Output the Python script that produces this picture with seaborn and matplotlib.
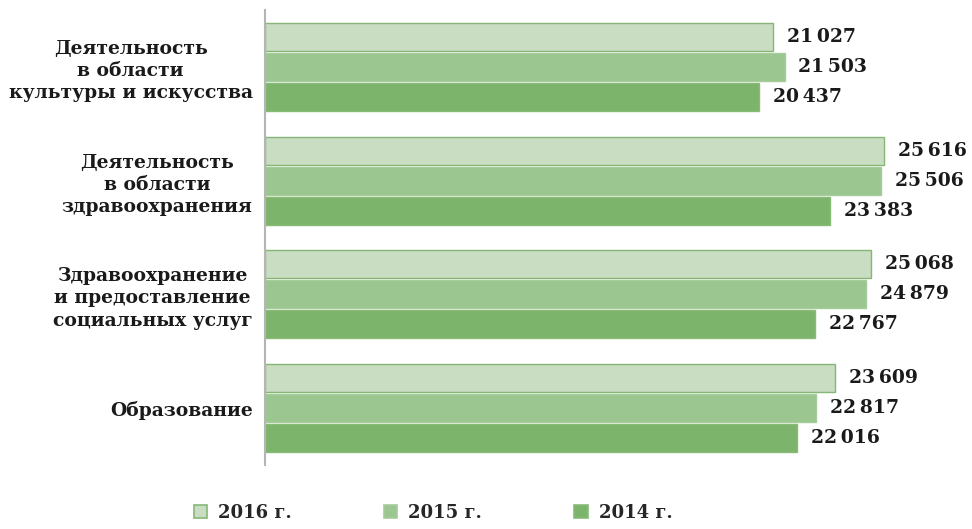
import pandas as pd
import matplotlib
matplotlib.use("Agg")
import matplotlib.pyplot as plt
import seaborn as sns
from matplotlib.patches import Patch

categories = [
    "Деятельность\nв области\nкультуры и искусства",
    "Деятельность\nв области\nздравоохранения",
    "Здравоохранение\nи предоставление\nсоциальных услуг",
    "Образование",
]
years = ["2016 г.", "2015 г.", "2014 г."]
values_2016 = [21027, 25616, 25068, 23609]
values_2015 = [21503, 25506, 24879, 22817]
values_2014 = [20437, 23383, 22767, 22016]

colors = ["#c8ddc2", "#9cc690", "#7db46b"]
edges = ["#86b676", "#a6cc9b", "#88bb77"]

rows = []
for year, vals in zip(years, [values_2016, values_2015, values_2014]):
    for cat, v in zip(categories, vals):
        rows.append({"Категория": cat, "Год": year, "Значение": v})
df = pd.DataFrame(rows)

sns.set_style("white")
plt.rcParams["font.family"] = ["DejaVu Serif"]
plt.rcParams["font.weight"] = "bold"

fig = plt.figure(figsize=(9.72, 5.29), dpi=100)
ax = fig.add_axes([265 / 972, 64 / 529, (962 - 265) / 972, (519 - 64) / 529])

sns.barplot(data=df, y="Категория", x="Значение", hue="Год", order=categories,
            hue_order=years, palette=colors, saturation=1, width=0.79, orient="h",
            legend=False, ax=ax)

# thin white gap between bars, darker edge on the light bars
for i, cont in enumerate(ax.containers):
    for bar in cont:
        h = bar.get_height()
        y = bar.get_y()
        bar.set_height(h * 0.94)
        bar.set_y(y + h * 0.03)
        bar.set_edgecolor(edges[i])
        bar.set_linewidth(1.0)
    labels = [f"{int(v):,}".replace(",", "\u2009") for v in cont.datavalues]
    ax.bar_label(cont, labels=labels, padding=10, fontsize=13.5, fontweight="bold",
                 color="#1a1a1a")

ax.set_xlim(0, 28850)
ax.set_ylim(3.5, -0.5)
ax.set_xlabel("")
ax.set_ylabel("")
ax.set_xticks([])
ax.set_yticks(range(len(categories)))
ax.set_yticklabels(categories, fontsize=13.5, fontweight="bold", color="#1a1a1a",
                   multialignment="center", linespacing=1.3)
ax.tick_params(axis="y", length=0, pad=9)
for s in ["top", "right", "bottom"]:
    ax.spines[s].set_visible(False)
ax.spines["left"].set_color("#b5b5b5")
ax.spines["left"].set_linewidth(1.5)

handles = [Patch(facecolor=c, edgecolor=e, linewidth=1.2) for c, e in zip(colors, edges)]
fig.legend(handles, years, loc="center", bbox_to_anchor=(433 / 972, 1 - 513 / 529),
           ncol=3, frameon=False, prop={"size": 13, "weight": "bold"},
           handlelength=0.75, handleheight=0.75, handletextpad=0.6, columnspacing=5.1)

fig.savefig("out.png", dpi=100)
